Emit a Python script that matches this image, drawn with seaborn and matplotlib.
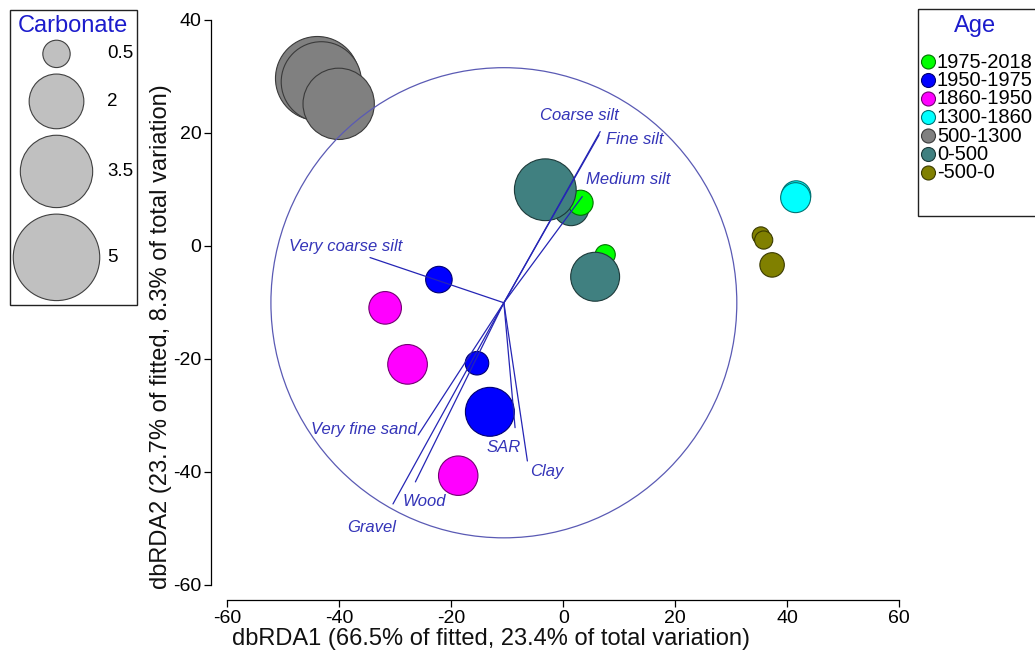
import numpy as np
import pandas as pd
import matplotlib
matplotlib.use("Agg")
import matplotlib.pyplot as plt
from matplotlib.patches import Circle
import seaborn as sns
from matplotlib.colors import to_rgb

# ---- sample scores on the first two dbRDA axes ----
age = ["500-1300", "500-1300", "500-1300",
       "0-500", "1975-2018", "0-500",
       "1975-2018", "0-500",
       "1300-1860", "1300-1860",
       "-500-0", "-500-0", "-500-0",
       "1950-1975", "1950-1975", "1950-1975",
       "1860-1950", "1860-1950", "1860-1950"]
dbrda1 = [-43.9, -43.2, -40.1,
          1.4, 3.1, -3.2,
          7.5, 5.7,
          41.6, 41.5,
          35.3, 35.8, 37.3,
          -22.2, -15.4, -13.1,
          -31.8, -27.8, -18.75]
dbrda2 = [29.6, 29.0, 25.1,
          6.7, 7.6, 9.9,
          -1.6, -5.5,
          8.9, 8.5,
          1.8, 1.0, -3.4,
          -6.0, -20.8, -29.4,
          -11.0, -21.0, -40.7]
carbonate = [4.7, 4.3, 3.4,
             0.85, 0.42, 2.55,
             0.27, 1.6,
             0.57, 0.6,
             0.2, 0.22, 0.4,
             0.47, 0.37, 1.6,
             0.71, 1.05, 1.04]

age_levels = ["1975-2018", "1950-1975", "1860-1950", "1300-1860",
              "500-1300", "0-500", "-500-0"]
age_colors = ["#00ff00", "#0000ff", "#ff00ff", "#00ffff",
              "#808080", "#408080", "#808000"]

# ---- predictor vectors (tips in ordination space) ----
vec_names = ["Coarse silt", "Fine silt", "Medium silt", "Very coarse silt",
             "Very fine sand", "Gravel", "Wood", "SAR", "Clay"]
vec_x = [6.6, 6.4, 3.4, -34.5, -25.9, -30.4, -26.4, -8.6, -6.4]
vec_y = [20.2, 19.6, 8.7, -2.1, -33.5, -45.7, -41.8, -32.2, -38.1]
vec_origin = (-10.6, -10.1)
circle_radius = 41.6

carb_legend_values = [0.5, 2, 3.5, 5]

# ---- styling ----
W, H, DPI = 1035, 653, 100
S_PER_UNIT = 775.5          # marker area (pt^2) per unit carbonate
TITLE_BLUE = "#1c1ccc"
VEC_BLUE = "#2525b5"
LABEL_BLUE = "#3434b8"
CIRCLE_BLUE = "#5a5ab4"

# label offsets from the vector tip, in pixels (dx, dy)
label_offsets = {
    "Coarse silt": (-21, 16), "Fine silt": (36, -5), "Medium silt": (46, 17),
    "Very coarse silt": (-24, 11), "Very fine sand": (-54, 5),
    "Gravel": (-21, -24), "Wood": (9, -20), "SAR": (-11, -20), "Clay": (19, -11),
}

sns.set_theme(style="ticks")
plt.rcParams["font.family"] = ["Liberation Sans", "DejaVu Sans"]
plt.rcParams["axes.unicode_minus"] = False

fig = plt.figure(figsize=(W / DPI, H / DPI), dpi=DPI)
fig.patch.set_facecolor("white")


def px_axes(x0, y0, x1, y1):
    a = fig.add_axes([x0 / W, 1 - y1 / H, (x1 - x0) / W, (y1 - y0) / H])
    a.set_xlim(x0, x1)
    a.set_ylim(y1, y0)
    return a


ax = px_axes(211, 14, 902, 600)
ax.set_xlim(-62.9, 60.5)
ax.set_ylim(-62.7, 41)

df = pd.DataFrame({"dbRDA1": dbrda1, "dbRDA2": dbrda2,
                   "Age": age, "Carbonate": carbonate})


def darker(c, f=0.45):
    return tuple(v * f for v in to_rgb(c))


cmap = dict(zip(age_levels, age_colors))
sns.scatterplot(data=df, x="dbRDA1", y="dbRDA2", hue="Age", hue_order=age_levels,
                palette=cmap, size="Carbonate", sizes=(0, S_PER_UNIT * 5),
                size_norm=(0, 5), linewidth=0.8, legend=False, ax=ax, zorder=2)
ax.collections[0].set_edgecolors([darker(cmap[a]) for a in df["Age"]])
ax.collections[0].set_alpha(None)

# correlation circle and vectors
ox, oy = vec_origin
ax.add_patch(Circle((ox, oy), circle_radius, fill=False, lw=0.9,
                    ec=CIRCLE_BLUE, zorder=3))
for name, tx, ty in zip(vec_names, vec_x, vec_y):
    ax.plot([ox, tx], [oy, ty], color=VEC_BLUE, lw=0.9, zorder=4)
    dx, dy = label_offsets[name]
    ax.annotate(name, (tx, ty), xytext=(dx, dy), textcoords="offset pixels",
                ha="center", va="center", fontsize=12, fontstyle="italic",
                color=LABEL_BLUE, zorder=5)

# axes styling
sns.despine(ax=ax)
ax.spines["left"].set_bounds(-60, 40)
ax.spines["bottom"].set_bounds(-60, 60)
for sp in ("left", "bottom"):
    ax.spines[sp].set_linewidth(0.9)
    ax.spines[sp].set_color("black")
ax.set_xticks(np.arange(-60, 61, 20))
ax.set_yticks(np.arange(-60, 41, 20))
ax.tick_params(axis="both", length=5, width=0.9, labelsize=14, pad=2,
               color="black", labelcolor="black")
ax.set_xlabel("dbRDA1 (66.5% of fitted, 23.4% of total variation)", fontsize=17,
              va="center", color="#111111")
ax.set_ylabel("dbRDA2 (23.7% of fitted, 8.3% of total variation)", fontsize=17,
              va="center", color="#111111")
ax.xaxis.set_label_coords(0.405, -0.0665)
ax.yaxis.set_label_coords(-0.073, 0.449)
ax.set_facecolor("white")
ax.grid(False)

# ---- Carbonate size key ----
lg = px_axes(9, 9, 137, 305)
lg.set_axis_off()
lg.add_patch(plt.Rectangle((9.5, 9.5), 127, 295, fill=False, lw=1.0, ec="#222222",
                           clip_on=False))
lg.text(73, 26, "Carbonate", ha="center", va="center", fontsize=17, color=TITLE_BLUE)
radii = [np.sqrt(S_PER_UNIT * v) / 2 * DPI / 72 for v in carb_legend_values]
gap = 6.5
cy = 40.2
centers = []
prev_r = None
for r in radii:
    cy = cy + r if prev_r is None else cy + prev_r + gap + r
    centers.append(cy)
    prev_r = r
lg.scatter([56.5] * len(centers), centers,
           s=[S_PER_UNIT * v for v in carb_legend_values],
           c="#c0c0c0", edgecolors="#404040", linewidths=0.8, zorder=2)
for v, y in zip(carb_legend_values, centers):
    lg.text(107, y, f"{v:g}", ha="left", va="center", fontsize=13.5, color="black")

# ---- Age key ----
ag = px_axes(918, 8, 1035, 216)
ag.set_axis_off()
ag.add_patch(plt.Rectangle((918.5, 8.5), 130, 207, fill=False, lw=1.0,
                           ec="#222222", clip_on=False))
ag.text(975, 26, "Age", ha="center", va="center", fontsize=17, color=TITLE_BLUE)
ys = [62 + 18.5 * i for i in range(len(age_levels))]
ag.scatter([928.5] * len(ys), ys, s=(2 * 7.0 * 72 / DPI) ** 2, c=age_colors,
           edgecolors=[darker(c) for c in age_colors], linewidths=0.8, zorder=2)
for lab, y in zip(age_levels, ys):
    ag.text(937, y, lab, ha="left", va="center", fontsize=14.5, color="black")

fig.savefig("out.png", dpi=DPI, facecolor="white")
